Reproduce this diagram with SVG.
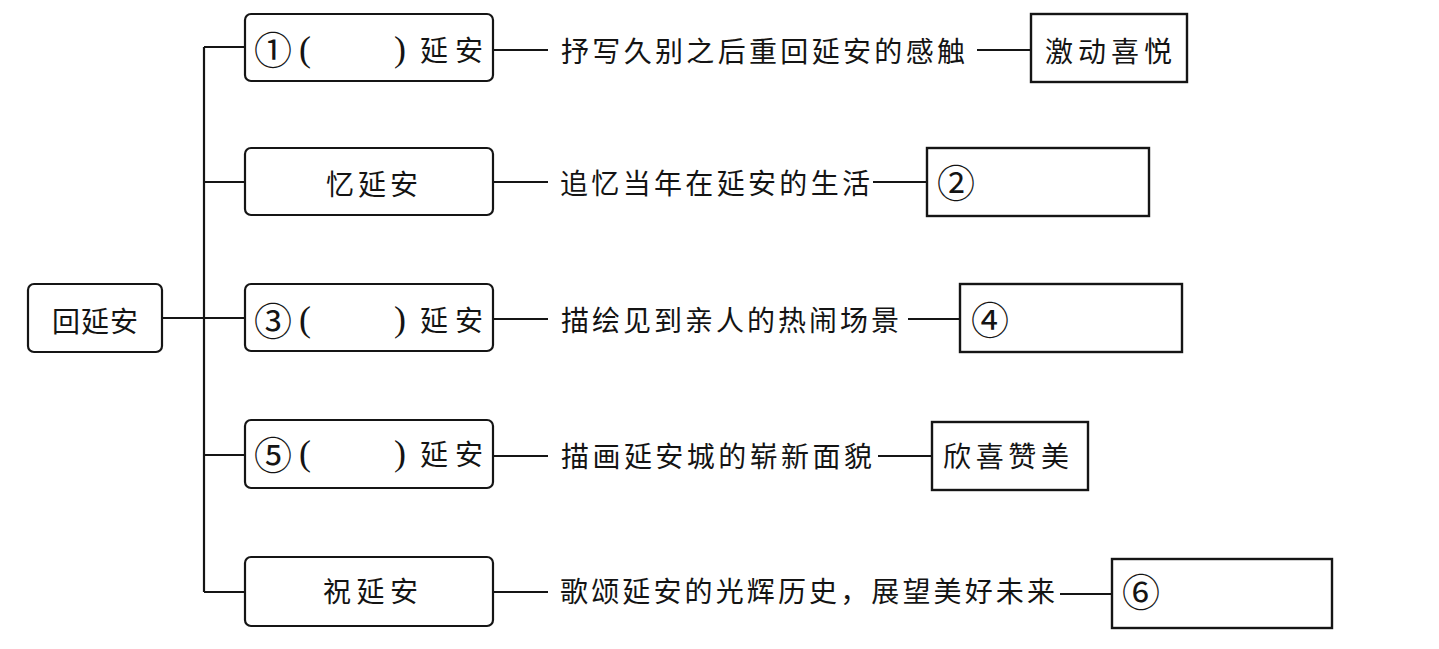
<svg xmlns="http://www.w3.org/2000/svg" width="1439" height="649" viewBox="0 0 1439 649">
<style>
.bg{fill:#ffffff}
.rb{fill:#ffffff;stroke:#151515;stroke-width:2.2}
.sb{fill:#ffffff;stroke:#151515;stroke-width:2.4}
.ln{stroke:#151515;stroke-width:2.2;fill:none}
.t{font-family:"Noto Sans CJK SC","Noto Sans",sans-serif;font-size:28px;fill:#141414}
.c{font-family:"Noto Sans CJK SC","Noto Sans",sans-serif;font-size:38px;fill:#141414}
.p{font-family:"Liberation Serif",serif;font-size:36px;fill:#141414}
</style>
<rect class="bg" x="0" y="0" width="1439" height="649"/>
<g id="connectors">
<path class="ln" d="M204 47 V592"/>
<path class="ln" d="M162 318 H245"/>
<path class="ln" d="M204 47 H245"/>
<path class="ln" d="M204 182 H245"/>
<path class="ln" d="M204 455 H245"/>
<path class="ln" d="M204 592 H245"/>
<path class="ln" d="M493 50 H548"/>
<path class="ln" d="M977 50 H1031"/>
<path class="ln" d="M493 182 H548"/>
<path class="ln" d="M873 182 H927"/>
<path class="ln" d="M493 319 H548"/>
<path class="ln" d="M908 319 H960"/>
<path class="ln" d="M493 456 H548"/>
<path class="ln" d="M878 456 H932"/>
<path class="ln" d="M493 592 H548"/>
<path class="ln" d="M1060 594 H1112"/>
</g>
<g id="root">
<rect class="rb" x="28" y="284" width="134" height="68" rx="6"/>
<text class="t" x="52" y="332" textLength="86" lengthAdjust="spacing">回延安</text>
</g>
<g id="b1">
<rect class="rb" x="245" y="14" width="248" height="67" rx="6"/>
<text class="c" x="254" y="64">①</text>
<text class="p" x="299" y="61">(</text>
<text class="p" x="394" y="61">)</text>
<text class="t" x="420" y="61" textLength="63" lengthAdjust="spacing">延安</text>
</g>
<g id="b2">
<rect class="rb" x="245" y="148" width="248" height="67" rx="6"/>
<text class="t" x="326" y="195" textLength="92" lengthAdjust="spacing">忆延安</text>
</g>
<g id="b3">
<rect class="rb" x="245" y="284" width="248" height="67" rx="6"/>
<text class="c" x="254" y="335">③</text>
<text class="p" x="299" y="331">(</text>
<text class="p" x="394" y="331">)</text>
<text class="t" x="420" y="331" textLength="63" lengthAdjust="spacing">延安</text>
</g>
<g id="b5">
<rect class="rb" x="245" y="420" width="248" height="68" rx="6"/>
<text class="c" x="254" y="469">⑤</text>
<text class="p" x="299" y="465">(</text>
<text class="p" x="394" y="465">)</text>
<text class="t" x="420" y="465" textLength="63" lengthAdjust="spacing">延安</text>
</g>
<g id="b6">
<rect class="rb" x="245" y="557" width="248" height="69" rx="6"/>
<text class="t" x="323" y="602" textLength="95" lengthAdjust="spacing">祝延安</text>
</g>
<g id="d1"><text class="t" x="561" y="62" textLength="404" lengthAdjust="spacing">抒写久别之后重回延安的感触</text></g>
<g id="d2"><text class="t" x="560" y="194" textLength="310" lengthAdjust="spacing">追忆当年在延安的生活</text></g>
<g id="d3"><text class="t" x="561" y="331" textLength="338" lengthAdjust="spacing">描绘见到亲人的热闹场景</text></g>
<g id="d5"><text class="t" x="561" y="467" textLength="311" lengthAdjust="spacing">描画延安城的崭新面貌</text></g>
<g id="d6"><text class="t" x="560" y="602" textLength="495" lengthAdjust="spacing">歌颂延安的光辉历史，展望美好未来</text></g>
<g id="r1">
<rect class="sb" x="1031" y="14" width="156" height="68"/>
<text class="t" x="1045" y="62" textLength="127" lengthAdjust="spacing">激动喜悦</text>
</g>
<g id="r2">
<rect class="sb" x="927" y="148" width="222" height="68"/>
<text class="c" x="937" y="197">②</text>
</g>
<g id="r4">
<rect class="sb" x="960" y="284" width="222" height="68"/>
<text class="c" x="971" y="334">④</text>
</g>
<g id="r5">
<rect class="sb" x="932" y="422" width="156" height="68"/>
<text class="t" x="943" y="467" textLength="126" lengthAdjust="spacing">欣喜赞美</text>
</g>
<g id="r6">
<rect class="sb" x="1112" y="559" width="220" height="69"/>
<text class="c" x="1122" y="606">⑥</text>
</g>
</svg>
